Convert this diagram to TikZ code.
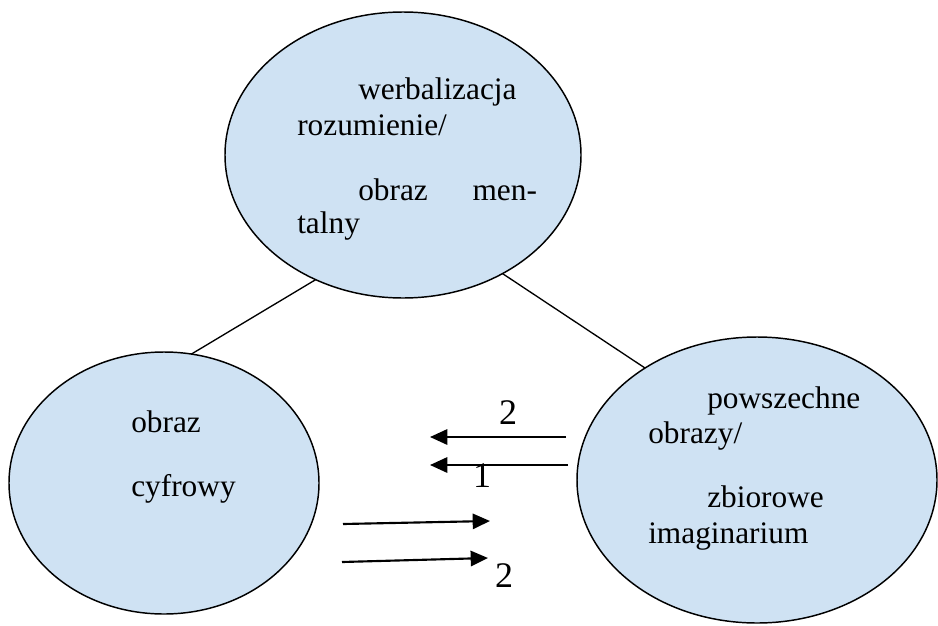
\documentclass[tikz,border=0pt]{standalone}
\usepackage{fontspec}
\setmainfont{Liberation Serif}
\usetikzlibrary{arrows.meta, shapes.geometric}
\definecolor{bubblefill}{RGB}{207,226,243}

\begin{document}
\begin{tikzpicture}[x=0.75pt, y=-0.75pt,
    bubble/.style={ellipse, draw, fill=bubblefill, line width=1.1pt, inner sep=0pt, outer sep=0pt},
    txt/.style={anchor=base west, inner sep=0pt, font=\fontsize{23.5}{26}\selectfont},
    num/.style={anchor=base, inner sep=0pt, font=\fontsize{27}{30}\selectfont},
    arr/.style={line width=1.6pt, -{Triangle[length=13pt, width=11.5pt]}}]
    \useasboundingbox (0,0) rectangle (938,625);

    % the three bubbles
    \node[bubble, minimum width=267pt, minimum height=214.5pt] (mental) at (403,155) {};
    \node[bubble, minimum width=232.5pt, minimum height=196.5pt] (digital) at (164,483) {};
    \node[bubble, minimum width=270pt, minimum height=214.5pt] (collective) at (757,480) {};

    % links between the bubbles
    \draw[line width=1pt] (mental.235) -- (digital.78);
    \draw[line width=1pt] (mental.310) -- (collective.135);

    % texts of the top bubble
    \node[txt] (werb) at (358,99) {werbalizacja};
    \node[txt] (rozum) at (297,135) {rozumienie/};
    \node[txt] (obrazm) at (358,200) {\makebox[134pt][l]{obraz\hfill men-}};
    \node[txt] (taln) at (297,233) {talny};

    % texts of the left bubble
    \node[txt] (obrazc) at (131,432) {obraz};
    \node[txt] (cyfr) at (131,496) {cyfrowy};

    % texts of the right bubble
    \node[txt] (powsz) at (707,408) {powszechne};
    \node[txt] (obrazy) at (648,443) {obrazy/};
    \node[txt] (zbior) at (707,507) {zbiorowe};
    \node[txt] (imag) at (648,543) {imaginarium};

    % arrows and their numbers
    \coordinate (ls1) at (566,437);
    \coordinate (le1) at (430,437);
    \coordinate (ls2) at (568,465);
    \coordinate (le2) at (430,465);
    \coordinate (rs1) at (343,524);
    \coordinate (re1) at (490,521);
    \coordinate (rs2) at (342,562);
    \coordinate (re2) at (488,558);
    \draw[arr] (ls1) -- (le1);
    \draw[arr] (ls2) -- (le2);
    \draw[arr] (rs1) -- (re1);
    \draw[arr] (rs2) -- (re2);

    \node[num] (ntop) at (508,424) {2};
    \node[num] (nmid) at (482,487) {1};
    \node[num] (nbot) at (504,587) {2};
\end{tikzpicture}
\end{document}
